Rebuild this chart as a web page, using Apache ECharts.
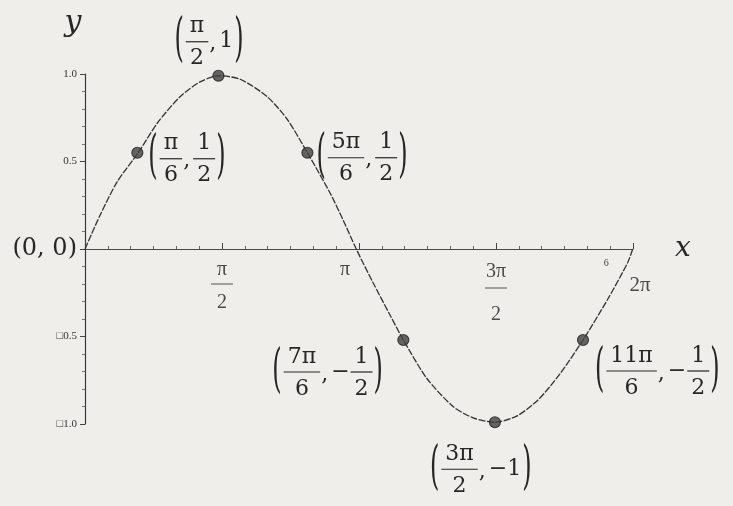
<!DOCTYPE html>
<html>
<head>
<meta charset="utf-8">
<script src="https://cdn.jsdelivr.net/npm/echarts@6/dist/echarts.min.js"></script>
<style>
  html, body { margin: 0; padding: 0; background: #efeeeb; }
  #main { width: 733px; height: 506px; }
</style>
</head>
<body>
<div id="main"></div>
<script>
var myChart = echarts.init(document.getElementById('main'));

// 曲线上读出的点 (x 单位: 弧度)
var curveX = [0, 0.17, 0.37, 0.61, 0.83, 1.09, 1.32, 1.53, 1.78, 2.09, 2.32, 2.55, 2.81, 2.96, 3.11,
              3.30, 3.50, 3.65, 3.92, 4.22, 4.45, 4.70, 4.95, 5.20, 5.45, 5.71, 5.99, 6.22, 6.28];
var curveY = [0, 0.19, 0.385, 0.55, 0.72, 0.87, 0.955, 0.99, 0.97, 0.87, 0.74, 0.55, 0.32, 0.165, 0,
              -0.19, -0.38, -0.52, -0.74, -0.90, -0.965, -0.99, -0.955, -0.86, -0.71, -0.52, -0.29, -0.08, 0];

// 标注的点
var dotX = [0.60, 1.53, 2.55, 3.65, 4.70, 5.71];
var dotY = [0.55, 0.99, 0.55, -0.52, -0.99, -0.52];
var dotLabels = [
    ['(', ['π', '6'], ',', ['1', '2'], ')'],
    ['(', ['π', '2'], ',', '1', ')'],
    ['(', ['5π', '6'], ',', ['1', '2'], ')'],
    ['(', ['7π', '6'], ',', '−', ['1', '2'], ')'],
    ['(', ['3π', '2'], ',', '−1', ')'],
    ['(', ['11π', '6'], ',', '−', ['1', '2'], ')']
];
// 标签相对点的偏移 (左边缘, 分数线)
var labelDx = [11, -44, 9, -131, -65, 12];
var labelDy = [6, -34, 5, 32, 47, 31];

// 坐标轴刻度
var xTickLabels = {'1.57': 'half', '3.14': 'pi', '4.71': 'threehalf', '6.28': 'twopi'};
var yTickLabels = {'1': '1.0', '0.5': '0.5', '0': '{o|(0, 0)}', '-0.5': '□0.5', '-1': '□1.0'};

var FONT = '"DejaVu Serif", "Liberation Serif", serif';
var INK = '#262626';

var measureCtx = document.createElement('canvas').getContext('2d');
function textW(s, size) {
    measureCtx.font = size + 'px ' + FONT;
    return measureCtx.measureText(s).width;
}

function txt(s, x, y, size, align, extra) {
    var el = {
        type: 'text', x: x, y: y,
        style: {text: s, fontSize: size, fontFamily: FONT, fill: INK, align: align || 'left', verticalAlign: 'middle'}
    };
    if (extra) { for (var k in extra) el[k] = extra[k]; }
    return el;
}

function buildLabel(parts, x0, yc) {
    var kids = [];
    var x = x0;
    var fs = 22;
    parts.forEach(function (p) {
        if (p === '(' || p === ')') {
            kids.push(txt(p, x, yc, 24, 'left', {scaleY: 2.2}));
            x += textW(p, 24) + 2;
        } else if (Array.isArray(p)) {
            var w = Math.max(textW(p[0], fs), textW(p[1], fs)) + 8;
            var cx = x + w / 2;
            kids.push(txt(p[0], cx, yc - 15, fs, 'center'));
            kids.push({type: 'line', shape: {x1: x, y1: yc, x2: x + w, y2: yc}, style: {stroke: INK, lineWidth: 1.2}});
            kids.push(txt(p[1], cx, yc + 17, fs, 'center'));
            x += w + 1;
        } else if (p === ',') {
            kids.push(txt(p, x, yc + 3, fs, 'left'));
            x += textW(p, fs) + 3;
        } else {
            kids.push(txt(p, x, yc, fs, 'left'));
            x += textW(p, fs) + 1;
        }
    });
    return kids;
}

var curveData = curveX.map(function (v, i) { return [v, curveY[i]]; });
var dotData = dotX.map(function (v, i) { return [v, dotY[i]]; });
var labelData = dotX.map(function (v, i) { return [v, dotY[i], i]; });

myChart.setOption({
    backgroundColor: '#efeeeb',
    animation: false,
    grid: {left: 85, right: 100, top: 74, bottom: 82, outerBoundsMode: 'none'},
    xAxis: {
        type: 'value',
        min: 0,
        max: 2 * Math.PI,
        interval: Math.PI / 2,
        offset: -175,
        name: 'x',
        nameLocation: 'end',
        nameGap: 42,
        nameTextStyle: {fontFamily: FONT, fontStyle: 'italic', fontSize: 28, color: INK, padding: [0, 0, 6, 0]},
        axisLine: {onZero: false, lineStyle: {color: '#4a4a4a', width: 1}},
        axisTick: {show: true, inside: true, length: 6, lineStyle: {color: '#444'}},
        minorTick: {show: true, splitNumber: 6, length: 3, lineStyle: {color: '#666'}},
        splitLine: {show: false},
        axisLabel: {
            margin: 11,
            fontFamily: '"Liberation Serif", serif',
            fontSize: 20,
            color: '#4a4a4a',
            showMinLabel: false,
            formatter: function (v) {
                var key = xTickLabels[v.toFixed(2)];
                if (key === 'half') return '{n|π}\n{b|}\n{d|2}';
                if (key === 'pi') return '{p|π}';
                if (key === 'threehalf') return '{n3|3π}\n{b|}\n{d3|2}';
                if (key === 'twopi') return '{t|2π}';
                return '';
            },
            rich: {
                n: {fontSize: 20, lineHeight: 20, align: 'center'},
                b: {width: 22, height: 0, borderWidth: 0.6, borderColor: '#555', lineHeight: 8},
                d: {fontSize: 20, lineHeight: 30, align: 'center'},
                p: {fontSize: 20, lineHeight: 20, padding: [0, 28, 0, 0]},
                n3: {fontSize: 20, lineHeight: 24, align: 'center'},
                d3: {fontSize: 20, lineHeight: 46, align: 'center'},
                t: {fontSize: 21, lineHeight: 24, padding: [26, 0, 0, 14]}
            }
        }
    },
    yAxis: {
        type: 'value',
        min: -1,
        max: 1,
        interval: 0.5,
        name: 'y',
        nameLocation: 'end',
        nameGap: 36,
        nameTextStyle: {fontFamily: FONT, fontStyle: 'italic', fontSize: 30, color: INK, padding: [0, 24, 0, 0]},
        axisLine: {show: true, onZero: false, lineStyle: {color: '#3a3a3a', width: 1.2}},
        axisTick: {show: true, length: 5, lineStyle: {color: '#444'}},
        minorTick: {show: true, splitNumber: 5, length: 3, lineStyle: {color: '#777'}},
        splitLine: {show: false},
        axisLabel: {
            margin: 8,
            fontFamily: '"Liberation Serif", serif',
            fontSize: 11,
            color: '#333',
            formatter: function (v) {
                return yTickLabels[String(v)] || '';
            },
            rich: {
                o: {fontSize: 24, fontFamily: FONT, color: INK}
            }
        }
    },
    series: [
        {
            name: 'sin',
            type: 'line',
            data: curveData,
            smooth: 0.25,
            showSymbol: false,
            lineStyle: {color: '#333', width: 1.3, type: [7, 1.5]},
            z: 3
        },
        {
            name: 'points',
            type: 'scatter',
            data: dotData,
            symbolSize: 11,
            itemStyle: {color: '#404040', borderColor: '#222', borderWidth: 1.2},
            z: 4
        },
        {
            name: 'labels',
            type: 'custom',
            data: labelData,
            silent: true,
            z: 5,
            renderItem: function (params, api) {
                var i = api.value(2);
                var pt = api.coord([api.value(0), api.value(1)]);
                return {
                    type: 'group',
                    children: buildLabel(dotLabels[i], pt[0] + labelDx[i], pt[1] + labelDy[i])
                };
            }
        },
        {
            name: 'six',
            type: 'custom',
            data: [[6, 0]],
            silent: true,
            renderItem: function (params, api) {
                var pt = api.coord([api.value(0), api.value(1)]);
                return {
                    type: 'text', x: pt[0] - 2, y: pt[1] + 14,
                    style: {text: '6', fontSize: 10, fontFamily: '"Liberation Serif", serif', fill: '#444', align: 'center', verticalAlign: 'middle'}
                };
            }
        }
    ]
});
</script>
</body>
</html>
